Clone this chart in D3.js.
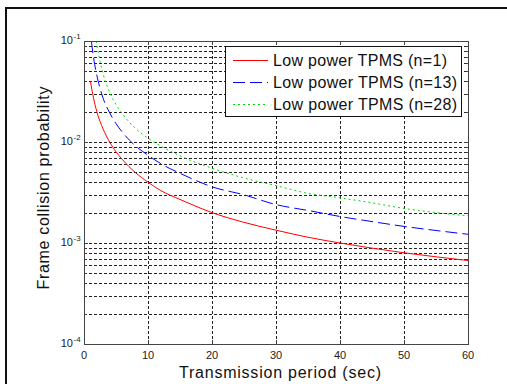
<!DOCTYPE html>
<html><head><meta charset="utf-8">
<script src="https://cdn.jsdelivr.net/npm/d3@7"></script>
<style>
html,body{margin:0;padding:0;background:#fff;}
svg{display:block;font-family:"Liberation Sans",Arial,sans-serif;}
</style></head>
<body>
<svg id="c" width="507" height="384"></svg>
<script>
// ---- data ----
const xTicks = [0,10,20,30,40,50,60];
const yTickExps = ["-4","-3","-2","-1"];
const seriesNames = ["Low power TPMS (n=1)","Low power TPMS (n=13)","Low power TPMS (n=28)"];

const tRed   = [1, 1.5, 2, 3, 4, 5, 6, 8, 10, 12, 15, 20, 25, 30, 35, 40, 45, 50, 55, 60];
const pRed   = [0.040, 0.027, 0.020, 0.0134, 0.0100, 0.0080, 0.0067, 0.0050, 0.0040, 0.0033, 0.0027, 0.0020, 0.0016, 0.00134, 0.00114, 0.00100, 0.00089, 0.00080, 0.00073, 0.00067];

const tBlue  = [1.15, 1.5, 2, 3, 4, 5, 6, 8, 10, 12, 15, 20, 25, 30, 35, 40, 45, 50, 55, 60];
const pBlue  = [0.100, 0.068, 0.046, 0.027, 0.0195, 0.0152, 0.0125, 0.0092, 0.0074, 0.0061, 0.0049, 0.0036, 0.0030, 0.0024, 0.0021, 0.00183, 0.00163, 0.00146, 0.00133, 0.00122];

const tGreen = [1.9, 2.5, 3, 4, 5, 6, 8, 10, 12, 15, 20, 25, 30, 35, 40, 45, 50, 55, 60];
const pGreen = [0.100, 0.063, 0.047, 0.031, 0.0235, 0.0190, 0.0137, 0.0109, 0.0091, 0.0073, 0.0055, 0.0044, 0.0037, 0.0031, 0.0028, 0.0025, 0.0022, 0.0020, 0.00186];

// ---- drawing ----
const svg = d3.select("#c");
const L = 84, R = 468, T = 41, B = 344;
const x = d3.scaleLinear().domain([0,60]).range([L,R]);
const y = d3.scaleLog().domain([1e-4,1e-1]).range([B,T]);

// outer figure frame
svg.append("rect").attr("x",6).attr("y",8).attr("width",520).attr("height",400)
  .attr("fill","none").attr("stroke","#111").attr("stroke-width",2);

// grid
const minor = [];
for (let e=-4; e<-1; e++) for (let k=1; k<=9; k++) { const v=k*Math.pow(10,e); if (v>1e-4) minor.push(v); }
const grid = svg.append("g").attr("stroke","#222").attr("stroke-width",1).attr("stroke-dasharray","3,2");
grid.selectAll("line.h").data(minor).join("line").attr("class","h")
  .attr("x1",L).attr("x2",R).attr("y1",d=>Math.round(y(d))+0.5).attr("y2",d=>Math.round(y(d))+0.5);
grid.selectAll("line.v").data(xTicks.filter(d=>d>0&&d<60)).join("line").attr("class","v")
  .attr("y1",T).attr("y2",B).attr("x1",d=>Math.round(x(d))+0.5).attr("x2",d=>Math.round(x(d))+0.5);

// curves
const clip = svg.append("clipPath").attr("id","pc").append("rect")
  .attr("x",L).attr("y",T).attr("width",R-L).attr("height",B-T);
const line = d3.line().x(d=>x(d[0])).y(d=>y(d[1])).curve(d3.curveMonotoneX);
const series = [
  {t:tRed, p:pRed, color:"#ff0000", dash:null},
  {t:tBlue, p:pBlue, color:"#0000ff", dash:"12,5"},
  {t:tGreen, p:pGreen, color:"#00dd00", dash:"2,3"}
];
const cg = svg.append("g").attr("clip-path","url(#pc)");
series.forEach(s=>{
  cg.append("path").datum(s.t.map((t,i)=>[t,s.p[i]]))
    .attr("d",line).attr("fill","none").attr("stroke",s.color).attr("stroke-width",1)
    .attr("stroke-dasharray",s.dash);
});

// axes box and ticks
const ax = svg.append("g").attr("stroke","#444").attr("stroke-width",1).attr("fill","none");
ax.append("rect").attr("x",L+0.5).attr("y",T+0.5).attr("width",R-L).attr("height",B-T);
xTicks.forEach(v=>{
  const px = Math.round(x(v))+0.5;
  ax.append("line").attr("x1",px).attr("x2",px).attr("y1",B).attr("y2",B-4);
  ax.append("line").attr("x1",px).attr("x2",px).attr("y1",T).attr("y2",T+4);
});
const allY = minor.concat([1e-4,1e-1]);
allY.forEach(v=>{
  const py = Math.round(y(v))+0.5;
  const isMaj = Math.abs(Math.log10(v)-Math.round(Math.log10(v)))<1e-9;
  const len = isMaj?4:2.5;
  ax.append("line").attr("x1",L).attr("x2",L+len).attr("y1",py).attr("y2",py);
  ax.append("line").attr("x1",R).attr("x2",R-len).attr("y1",py).attr("y2",py);
});

// tick labels
const tl = svg.append("g").attr("fill","#222").attr("font-size",11);
xTicks.forEach(v=>{
  tl.append("text").attr("x",x(v)).attr("y",B+15).attr("text-anchor","middle").text(v);
});
yTickExps.forEach(e=>{
  const py = y(Math.pow(10,+e));
  tl.append("text").attr("x",73).attr("y",py+3).attr("text-anchor","end").text("10");
  tl.append("text").attr("x",73.5).attr("y",py-2).attr("font-size",8).text(e);
});

// axis labels
svg.append("text").attr("x",280).attr("y",378).attr("text-anchor","middle")
  .attr("font-size",16).attr("fill","#111").attr("textLength",202).attr("lengthAdjust","spacing")
  .text("Transmission period (sec)");
svg.append("text").attr("transform","translate(49,188) rotate(-90)").attr("text-anchor","middle")
  .attr("font-size",16).attr("fill","#111").attr("textLength",203).attr("lengthAdjust","spacing")
  .text("Frame collision probability");

// legend
const lg = svg.append("g");
lg.append("rect").attr("x",225.5).attr("y",46.5).attr("width",236).attr("height",70)
  .attr("fill","#fff").attr("stroke","#111").attr("stroke-width",1);
const rowY = [60, 82, 104];
const textW = [174, 184, 184];
series.forEach((s,i)=>{
  lg.append("line").attr("x1",233).attr("x2",268).attr("y1",rowY[i]+0.5).attr("y2",rowY[i]+0.5)
    .attr("stroke",s.color).attr("stroke-width",1).attr("stroke-dasharray",s.dash);
  lg.append("text").attr("x",273).attr("y",rowY[i]+5.5).attr("font-size",16).attr("fill","#111")
    .attr("textLength",textW[i]).attr("lengthAdjust","spacing").text(seriesNames[i]);
});
</script>
</body></html>
